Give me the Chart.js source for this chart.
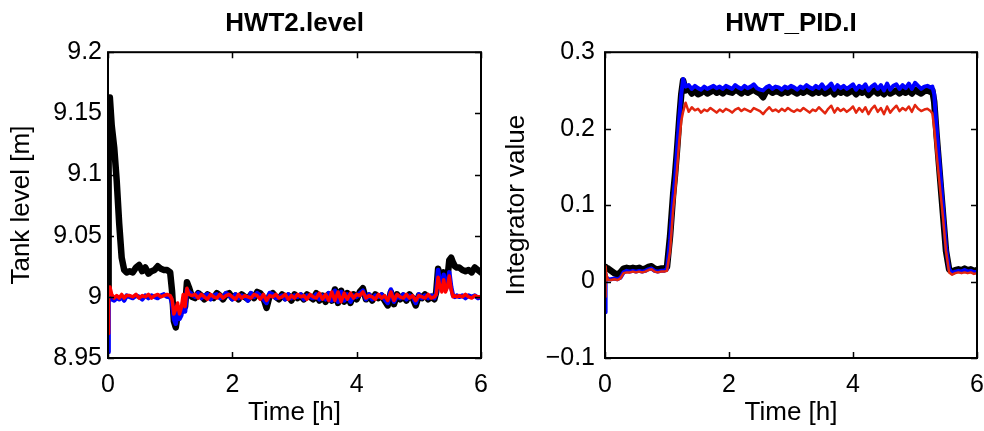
<!DOCTYPE html>
<html>
<head>
<meta charset="utf-8">
<script src="https://cdn.jsdelivr.net/npm/chart.js@4.4.1/dist/chart.umd.min.js"></script>
<style>
html,body{margin:0;padding:0;background:#fff;}
#wrap{position:relative;width:984px;height:431px;overflow:hidden;}
.pane{position:absolute;top:0;width:492px;height:431px;}
</style>
</head>
<body>
<div id="wrap">
  <div class="pane" style="left:0"><canvas id="c1" width="492" height="431"></canvas></div>
  <div class="pane" style="left:492px"><canvas id="c2" width="492" height="431"></canvas></div>
</div>
<script>
// ---------- Left panel: HWT2.level ----------
const titleL = "HWT2.level";
const yLabelL = "Tank level [m]";
const xLabel = "Time [h]";
const xTicks = [0, 2, 4, 6];
const yTicksL = [8.95, 9, 9.05, 9.1, 9.15, 9.2];

const tL = [0,0.01,0.03,0.06,0.1,0.14,0.18,0.22,0.26,0.3,
  0.35,0.4,0.45,0.5,0.55,0.6,0.65,0.7,0.75,0.8,0.85,0.9,0.95,1.0,
  1.03,1.06,1.09,1.12,1.15,1.18,1.21,1.24,1.27,1.3,
  1.35,1.4,1.45,1.5,1.55,1.6,1.65,1.7,1.75,1.8,
  1.85,1.9,1.95,2,2.05,2.1,2.15,2.2,2.25,2.3,
  2.35,2.4,2.45,2.5,2.55,2.6,2.65,2.7,2.75,2.8,
  2.85,2.9,2.95,3,3.05,3.1,3.15,3.2,3.25,3.3,
  3.35,3.4,3.45,3.5,3.55,3.6,3.65,3.7,3.75,3.8,
  3.85,3.9,3.95,4,4.05,4.1,4.15,4.2,4.25,4.3,
  4.35,4.4,4.45,4.5,4.55,4.6,4.65,4.7,4.75,4.8,
  4.85,4.9,4.95,5,5.05,5.1,5.15,5.2,5.25,
  5.28,5.31,5.34,5.37,5.4,5.43,5.46,5.49,5.52,5.55,5.58,5.61,
  5.65,5.7,5.75,5.8,5.85,5.9,5.95,6.0];

const levelBlack = [9.000,9.150,9.163,9.140,9.122,9.095,9.060,9.032,9.022,9.020,
  9.021,9.020,9.024,9.026,9.021,9.024,9.019,9.021,9.022,9.025,9.023,9.022,9.022,9.020,
  9.005,8.980,8.975,8.985,8.990,8.988,8.990,8.992,9.012,9.008,
  9.000,8.999,9.003,9.001,8.998,9.002,9.000,8.999,9.003,9.001,
  8.998,9.002,9.003,8.999,9.001,8.998,9.002,9.000,8.998,9.002,
  8.999,9.004,9.003,8.999,8.991,9.001,9.003,9.000,8.998,9.002,
  8.999,9.001,8.997,9.002,8.999,9.001,8.998,9.002,9.000,8.998,
  9.003,8.997,9.001,8.996,9.002,8.997,9.006,8.995,9.005,8.996,
  9.003,8.995,9.002,8.998,9.004,9.007,8.998,9.001,8.997,9.002,
  8.999,9.001,8.997,8.993,9.004,8.994,9.002,8.998,9.001,8.997,
  9.002,8.999,8.993,9.001,8.999,9.002,8.998,9.000,8.998,
  9.004,9.023,9.016,9.010,9.020,9.012,9.015,9.030,9.032,9.028,9.025,9.024,
  9.024,9.022,9.021,9.022,9.020,9.024,9.022,9.020];

const levelBlue = [8.955,9.000,9.003,8.998,8.997,8.999,8.998,9.000,8.997,9.001,
  9.000,8.999,9.001,9.000,8.998,9.001,8.999,9.001,9.000,8.999,9.001,9.002,9.000,9.000,
  8.995,8.982,8.978,8.990,8.982,8.985,8.996,8.988,9.006,9.004,
  9.002,9.000,9.003,8.999,9.001,9.002,8.998,9.001,9.002,8.999,
  9.000,9.003,9.001,8.998,9.002,8.999,9.001,9.000,8.997,9.003,
  9.000,9.003,9.001,8.998,8.995,9.003,9.002,8.999,9.000,9.001,
  8.998,9.002,8.999,9.001,9.000,9.002,8.998,9.001,9.000,8.999,
  9.002,8.998,9.001,8.998,9.003,8.997,9.005,8.996,9.004,8.997,
  9.002,8.996,9.001,9.000,9.003,9.005,8.998,9.002,8.998,9.001,
  9.000,9.002,8.998,8.995,9.006,8.996,9.001,8.999,9.002,8.998,
  9.001,9.000,8.995,9.002,8.999,9.001,8.999,9.001,8.999,
  9.003,9.022,9.010,9.006,9.018,9.006,9.010,9.020,9.008,9.001,9.000,9.001,
  9.000,9.001,8.999,9.001,9.000,9.001,8.999,9.000];

const levelRed = [8.970,9.004,9.008,9.002,8.999,9.001,8.999,9.002,8.999,9.001,
  9.001,9.000,9.002,8.999,9.001,9.000,9.002,8.999,9.001,9.002,9.000,9.001,9.002,9.001,
  8.998,8.986,8.990,8.995,8.986,8.991,9.002,8.992,9.007,9.002,
  9.001,9.002,8.999,9.002,9.000,8.998,9.002,9.000,8.999,9.002,
  8.999,9.001,9.002,9.000,8.998,9.002,8.999,9.001,9.000,8.999,
  9.002,9.001,8.998,9.002,8.997,9.001,9.000,9.002,8.999,9.000,
  9.002,8.998,9.001,8.999,9.002,9.000,9.001,8.998,9.002,9.000,
  8.999,9.003,8.998,9.002,8.997,9.004,8.997,9.004,8.996,9.003,
  8.998,9.003,8.999,9.002,9.001,9.004,8.999,9.001,9.000,8.998,
  9.002,8.999,9.001,8.997,9.004,8.997,9.002,9.000,8.999,9.002,
  8.999,9.001,8.997,9.001,9.000,8.999,9.002,8.999,9.000,
  9.002,9.016,9.008,9.004,9.014,9.004,9.008,9.017,9.006,9.000,9.001,9.000,
  9.001,9.000,9.002,9.000,8.999,9.001,9.000,9.000];

// ---------- Right panel: HWT_PID.I ----------
const titleR = "HWT_PID.I";
const yLabelR = "Integrator value";
const yTicksR = [-0.1, 0, 0.1, 0.2, 0.3];

const tR = [0,0.01,0.02,0.05,0.1,0.15,0.2,0.25,0.3,0.35,
  0.4,0.45,0.5,0.55,0.6,0.65,0.7,0.75,0.8,0.85,0.9,0.95,1.0,
  1.05,1.1,1.13,1.16,1.2,1.23,1.26,1.3,
  1.35,1.4,1.45,1.5,1.55,1.6,1.65,1.7,1.75,1.8,
  1.85,1.9,1.95,2,2.05,2.1,2.15,2.2,2.25,2.3,
  2.35,2.4,2.45,2.5,2.55,2.6,2.65,2.7,2.75,2.8,
  2.85,2.9,2.95,3,3.05,3.1,3.15,3.2,3.25,3.3,
  3.35,3.4,3.45,3.5,3.55,3.6,3.65,3.7,3.75,3.8,
  3.85,3.9,3.95,4,4.05,4.1,4.15,4.2,4.25,4.3,
  4.35,4.4,4.45,4.5,4.55,4.6,4.65,4.7,4.75,4.8,
  4.85,4.9,4.95,5,5.05,5.1,5.15,5.2,5.25,
  5.28,5.31,5.35,5.4,5.45,5.5,5.55,5.6,5.65,
  5.7,5.75,5.8,5.85,5.9,5.95,6.0];

const integBlack = [0.018,0.019,0.018,0.017,0.014,0.011,0.009,0.012,0.017,0.018,
  0.017,0.018,0.017,0.018,0.016,0.017,0.019,0.020,0.017,0.016,0.017,0.017,0.019,
  0.060,0.115,0.140,0.170,0.215,0.245,0.263,0.250,
  0.252,0.246,0.249,0.245,0.247,0.250,0.246,0.248,0.251,0.247,
  0.249,0.246,0.250,0.248,0.247,0.251,0.249,0.246,0.250,0.247,
  0.249,0.251,0.248,0.246,0.241,0.249,0.250,0.247,0.249,0.248,
  0.246,0.249,0.247,0.250,0.248,0.246,0.249,0.247,0.250,0.248,
  0.246,0.249,0.247,0.250,0.246,0.248,0.251,0.245,0.250,0.247,
  0.249,0.246,0.248,0.250,0.245,0.249,0.247,0.250,0.244,0.248,
  0.250,0.246,0.249,0.245,0.251,0.246,0.248,0.250,0.246,0.249,
  0.247,0.250,0.246,0.251,0.248,0.246,0.249,0.250,0.248,
  0.250,0.235,0.190,0.140,0.090,0.040,0.016,0.013,0.015,
  0.016,0.015,0.017,0.015,0.016,0.014,0.015];

const integBlue = [-0.040,0.010,0.006,0.003,0.003,0.004,0.003,0.005,0.012,0.014,
  0.013,0.014,0.013,0.014,0.013,0.014,0.016,0.017,0.014,0.013,0.014,0.014,0.016,
  0.055,0.110,0.135,0.170,0.215,0.245,0.265,0.255,
  0.257,0.252,0.256,0.253,0.251,0.255,0.252,0.254,0.256,0.253,
  0.255,0.252,0.256,0.254,0.252,0.257,0.254,0.252,0.256,0.253,
  0.255,0.258,0.253,0.251,0.250,0.254,0.256,0.252,0.255,0.254,
  0.251,0.255,0.253,0.256,0.254,0.251,0.255,0.253,0.257,0.254,
  0.252,0.256,0.253,0.258,0.252,0.255,0.259,0.251,0.257,0.253,
  0.256,0.252,0.255,0.258,0.251,0.256,0.253,0.258,0.250,0.255,
  0.258,0.252,0.257,0.250,0.259,0.251,0.256,0.258,0.252,0.257,
  0.253,0.259,0.252,0.260,0.256,0.252,0.255,0.256,0.254,
  0.255,0.245,0.200,0.150,0.100,0.045,0.016,0.011,0.013,
  0.014,0.013,0.015,0.013,0.014,0.012,0.013];

const integRed = [-0.020,0.020,0.010,0.002,0.002,0.003,0.002,0.004,0.011,0.012,
  0.012,0.013,0.012,0.013,0.012,0.013,0.015,0.016,0.013,0.012,0.013,0.013,0.014,
  0.040,0.095,0.115,0.145,0.185,0.210,0.222,0.234,
  0.222,0.228,0.224,0.226,0.221,0.225,0.223,0.227,0.224,0.221,
  0.225,0.222,0.226,0.224,0.221,0.225,0.227,0.223,0.226,0.224,
  0.222,0.227,0.225,0.223,0.219,0.224,0.228,0.223,0.225,0.222,
  0.226,0.223,0.227,0.224,0.222,0.225,0.223,0.227,0.224,0.221,
  0.225,0.223,0.228,0.224,0.220,0.226,0.230,0.221,0.227,0.223,
  0.226,0.222,0.225,0.229,0.221,0.227,0.222,0.228,0.219,0.226,
  0.230,0.222,0.227,0.219,0.229,0.221,0.226,0.230,0.223,0.227,
  0.224,0.229,0.222,0.231,0.226,0.223,0.225,0.226,0.223,
  0.220,0.200,0.165,0.125,0.085,0.040,0.012,0.009,0.011,
  0.012,0.011,0.012,0.011,0.012,0.010,0.011];

// ---------- helpers ----------
const FONT = "'Liberation Sans', Arial, Helvetica, sans-serif";
Chart.defaults.font.family = FONT;
Chart.defaults.color = '#000';

function pts(t, v){ return t.map((x,i)=>({x:x, y:v[i]})); }

const boxTicks = {
  id: 'boxTicks',
  afterDatasetsDraw(chart){
    const {ctx, chartArea:a, scales:{x, y}} = chart;
    ctx.save();
    ctx.strokeStyle = '#000';
    ctx.lineWidth = 1.5;
    const L = 6;
    ctx.beginPath();
    x.ticks.forEach(t => {
      const px = Math.round(x.getPixelForValue(t.value)) + 0.5;
      ctx.moveTo(px, a.bottom); ctx.lineTo(px, a.bottom - L);
      ctx.moveTo(px, a.top); ctx.lineTo(px, a.top + L);
    });
    y.ticks.forEach(t => {
      const py = Math.round(y.getPixelForValue(t.value)) + 0.5;
      ctx.moveTo(a.left, py); ctx.lineTo(a.left + L, py);
      ctx.moveTo(a.right, py); ctx.lineTo(a.right - L, py);
    });
    ctx.stroke();
    ctx.lineWidth = 2;
    ctx.strokeRect(a.left, a.top, a.right - a.left, a.bottom - a.top);
    ctx.restore();
  }
};

function fmt(v){
  const s = String(Number(v.toFixed(3)));
  return s.replace('-', '\u2212');
}

function makeChart(id, cfg){
  const ticksArr = cfg.yTicks;
  return new Chart(document.getElementById(id), {
    type: 'line',
    data: { datasets: cfg.series.map(s => ({
      data: pts(cfg.t, s.v),
      borderColor: s.color,
      borderWidth: s.w,
      pointRadius: 0,
      tension: 0,
      fill: false,
      borderJoinStyle: 'round',
      borderCapStyle: 'round'
    })) },
    options: {
      responsive: false,
      animation: false,
      events: [],
      layout: { padding: { left: 0, right: cfg.padRight, top: 0, bottom: 0 } },
      plugins: {
        legend: { display: false },
        tooltip: { enabled: false },
        title: {
          display: true, text: cfg.title, fullSize: false,
          font: { size: 26, weight: 'bold', family: FONT },
          color: '#000', padding: { top: 8, bottom: 13 }
        }
      },
      scales: {
        x: {
          type: 'linear', min: 0, max: 6,
          afterBuildTicks: s => { s.ticks = xTicks.map(v => ({value: v})); },
          afterFit: s => { s.height = 73; s.paddingLeft = 0; s.paddingRight = 0; },
          grid: { display: false, drawTicks: false },
          border: { display: false },
          ticks: { font: { size: 25, family: FONT }, color: '#000', padding: 12, maxRotation: 0,
                   callback: v => fmt(v) },
          title: { display: true, text: xLabel, color: '#000',
                   font: { size: 26, family: FONT }, padding: { top: 0, bottom: 3 } }
        },
        y: {
          type: 'linear', min: cfg.yMin, max: cfg.yMax,
          afterBuildTicks: s => { s.ticks = ticksArr.map(v => ({value: v})); },
          afterFit: s => { s.width = cfg.yWidth; s.paddingTop = 0; s.paddingBottom = 0; },
          grid: { display: false, drawTicks: false },
          border: { display: false },
          ticks: { font: { size: 25, family: FONT }, color: '#000', padding: cfg.yTickPad,
                   callback: v => fmt(v) },
          title: { display: true, text: cfg.yLabel, color: '#000',
                   font: { size: 26, family: FONT }, padding: { top: cfg.yTitlePad, bottom: 0 } }
        }
      }
    },
    plugins: [boxTicks]
  });
}

makeChart('c1', {
  title: titleL, yLabel: yLabelL, t: tL, yMin: 8.95, yMax: 9.2, yTicks: yTicksL,
  yWidth: 108, padRight: 11, yTickPad: 6, yTitlePad: 6,
  series: [
    { v: levelRed, color: '#ff0000', w: 3.5 },
    { v: levelBlue, color: '#0000ff', w: 4.5 },
    { v: levelBlack, color: '#000000', w: 6.5 }
  ]
});

makeChart('c2', {
  title: titleR, yLabel: yLabelR, t: tR, yMin: -0.1, yMax: 0.3, yTicks: yTicksR,
  yWidth: 113, padRight: 7, yTickPad: 10, yTitlePad: 9,
  series: [
    { v: integRed, color: '#e3260f', w: 2.5 },
    { v: integBlue, color: '#0000ff', w: 4 },
    { v: integBlack, color: '#000000', w: 6.5 }
  ]
});
</script>
</body>
</html>
